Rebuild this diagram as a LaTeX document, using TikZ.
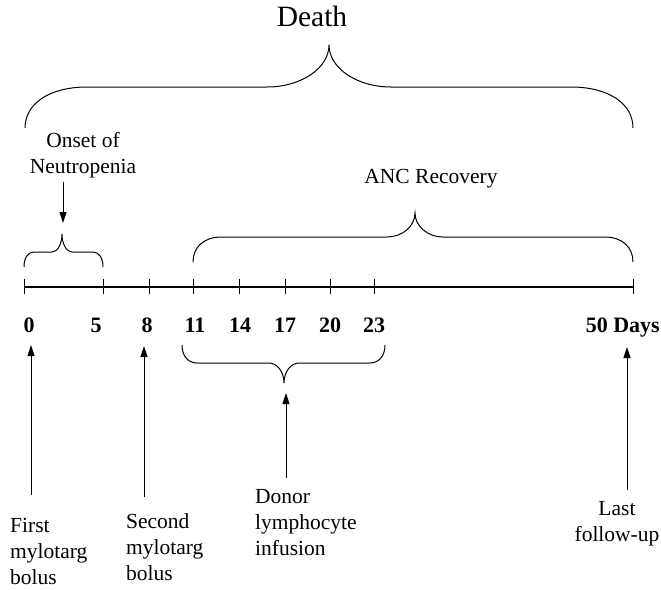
\documentclass[tikz,border=0pt]{standalone}
\usepackage{fontspec}
\setmainfont{Liberation Serif}
\usetikzlibrary{arrows.meta}
\newcommand\mybrace[7]{%
  \draw[brc] (#1,#4) .. controls (#1,{#4+0.6*(#5-#4)}) and ({#1+0.4*#7},#5) .. ({#1+#7},#5)
    -- ({#3-#7},#5) .. controls ({#3-0.45*#7},#5) and (#3,{#5+0.45*(#6-#5)}) .. (#3,#6)
    .. controls (#3,{#5+0.45*(#6-#5)}) and ({#3+0.45*#7},#5) .. ({#3+#7},#5)
    -- ({#2-#7},#5) .. controls ({#2-0.4*#7},#5) and (#2,{#4+0.6*(#5-#4)}) .. (#2,#4);}
\begin{document}
\begin{tikzpicture}[x=1pt,y=-1pt,
  brc/.style={line width=1pt},
  axis/.style={line width=1.1pt},
  tick/.style={line width=1pt},
  arr/.style={line width=1pt,-{Triangle[length=11pt,width=7pt]}},
  lbl/.style={inner sep=0pt,font=\fontsize{21.5}{26}\selectfont},
  num/.style={inner sep=0pt,font=\fontsize{22}{26}\selectfont\bfseries,anchor=base},
  big/.style={inner sep=0pt,font=\fontsize{29.5}{34}\selectfont,anchor=base}]
\useasboundingbox (0,0) rectangle (661,589);
% title
\node[big] (death) at (312,26) {Death};
% braces
\mybrace{25}{633}{329}{128}{87}{45}{62}
\mybrace{24}{103}{62}{267}{252}{234}{10}
\mybrace{193}{633}{415}{262}{237}{213}{28}
\mybrace{182}{385}{284}{345}{363}{383}{15}
% timeline
\coordinate (t0) at (24,287);
\coordinate (t50) at (633,287);
\draw[axis] (t0) -- (t50);
\foreach \x in {24,103,149,193,239,285,330,374,633}
  \draw[tick] (\x,279) -- (\x,294);
% numbers
\node[num] (n0) at (29,332) {0};
\node[num] (n5) at (96,332) {5};
\node[num] (n8) at (147,332) {8};
\node[num] (n11) at (195,332) {11};
\node[num] (n14) at (240,332) {14};
\node[num] (n17) at (285,332) {17};
\node[num] (n20) at (330,332) {20};
\node[num] (n23) at (374,332) {23};
\node[num,anchor=base east] (n50) at (660,332) {50 Days};
% upper labels
\node[lbl,anchor=base] (onset) at (83,147) {\begin{tabular}[t]{@{}c@{}}Onset of\\Neutropenia\end{tabular}};
\node[lbl,anchor=base] (anc) at (431,183) {ANC Recovery};
\coordinate (onA) at (63,182);
\coordinate (onB) at (63,223);
\draw[arr] (onA) -- (onB);
% lower labels
\node[lbl,anchor=base west] (first) at (10,532) {\begin{tabular}[t]{@{}l@{}}First\\mylotarg\\bolus\end{tabular}};
\node[lbl,anchor=base west] (second) at (126,528) {\begin{tabular}[t]{@{}l@{}}Second\\mylotarg\\bolus\end{tabular}};
\node[lbl,anchor=base west] (donor) at (255,503) {\begin{tabular}[t]{@{}l@{}}Donor\\lymphocyte\\infusion\end{tabular}};
\node[lbl,anchor=base] (last) at (617,515) {\begin{tabular}[t]{@{}c@{}}Last\\follow-up\end{tabular}};
% arrows
\coordinate (fA) at (31,495); \coordinate (fB) at (31,345);
\coordinate (sA) at (144,497); \coordinate (sB) at (144,346);
\coordinate (dA) at (286,478); \coordinate (dB) at (286,393);
\coordinate (lA) at (627,490); \coordinate (lB) at (627,347);
\draw[arr] (fA) -- (fB);
\draw[arr] (sA) -- (sB);
\draw[arr] (dA) -- (dB);
\draw[arr] (lA) -- (lB);
\end{tikzpicture}
\end{document}
